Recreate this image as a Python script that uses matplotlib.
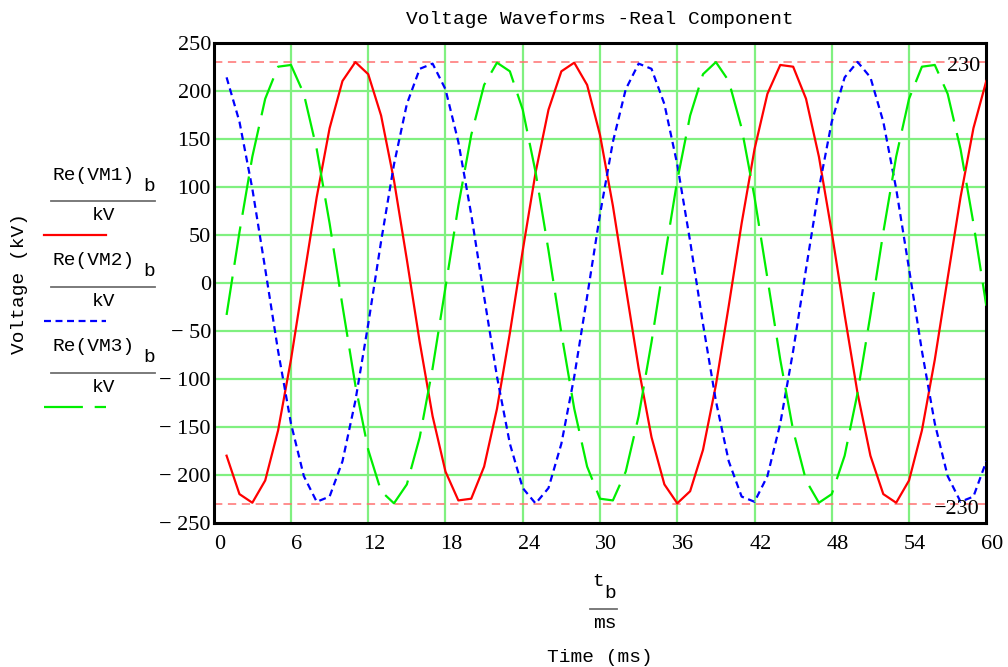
import matplotlib
matplotlib.use("Agg")
import matplotlib.pyplot as plt
import matplotlib.transforms as mtransforms
from matplotlib.lines import Line2D

# ---- data ----
t_ms = list(range(1, 61))

vm1 = [-180.2, -220.2, -229.2, -206.0, -153.9, -80.2, 4.8, 89.1, 160.9, 210.1,
       229.8, 217.2, 174.1, 106.6, 24.0, -61.9, -139.1, -196.7, -226.8, -225.0,
       -191.6, -131.3, -52.5, 33.6, 115.0, 180.2, 220.2, 229.2, 206.0, 153.9,
       80.2, -4.8, -89.1, -160.9, -210.1, -229.8, -217.2, -174.1, -106.6, -24.0,
       61.9, 139.1, 196.7, 226.8, 225.0, 191.6, 131.3, 52.5, -33.6, -115.0,
       -180.2, -220.2, -229.2, -206.0, -153.9, -80.2, 4.8, 89.1, 160.9, 210.1]

vm2 = [213.9, 167.7, 97.9, 14.4, -71.1, -146.6, -201.5, -228.2, -222.8, -186.1,
       -123.2, -43.1, 43.1, 123.2, 186.1, 222.8, 228.2, 201.5, 146.6, 71.1,
       -14.4, -97.9, -167.7, -213.9, -230.0, -213.9, -167.7, -97.9, -14.4, 71.1,
       146.6, 201.5, 228.2, 222.8, 186.1, 123.2, 43.1, -43.1, -123.2, -186.1,
       -222.8, -228.2, -201.5, -146.6, -71.1, 14.4, 97.9, 167.7, 213.9, 230.0,
       213.9, 167.7, 97.9, 14.4, -71.1, -146.6, -201.5, -228.2, -222.8, -186.1]

vm3 = [-33.6, 52.5, 131.3, 191.6, 225.0, 226.8, 196.7, 139.1, 61.9, -24.0,
       -106.6, -174.1, -217.2, -229.8, -210.1, -160.9, -89.1, -4.8, 80.2, 153.9,
       206.0, 229.2, 220.2, 180.2, 115.0, 33.6, -52.5, -131.3, -191.6, -225.0,
       -226.8, -196.7, -139.1, -61.9, 24.0, 106.6, 174.1, 217.2, 229.8, 210.1,
       160.9, 89.1, 4.8, -80.2, -153.9, -206.0, -229.2, -220.2, -180.2, -115.0,
       -33.6, 52.5, 131.3, 191.6, 225.0, 226.8, 196.7, 139.1, 61.9, -24.0]

x_ticks = [0, 6, 12, 18, 24, 30, 36, 42, 48, 54, 60]
y_ticks = [-250, -200, -150, -100, -50, 0, 50, 100, 150, 200, 250]
ref_levels = [230, -230]

plt.rcParams['lines.scale_dashes'] = False
W, H = 1008, 667
fig = plt.figure(figsize=(W / 100, H / 100), dpi=100)

def fx(px):
    return px / W

def fy(py):
    return 1 - py / H

ax = fig.add_axes([fx(213.7), fy(522.7), fx(986.3) - fx(213.7), fy(42.7) - fy(522.7)])
ax.set_xlim(0, 60)
ax.set_ylim(-250, 250)

grid_c = '#80f080'
for xv in x_ticks[1:-1]:
    ax.axvline(xv, color=grid_c, lw=1.6, zorder=0)
for yv in y_ticks[1:-1]:
    ax.axhline(yv, color=grid_c, lw=1.6, zorder=0)

for lv in ref_levels:
    ax.axhline(lv, color='#ff7070', lw=1.1, dashes=(6, 4), zorder=1)

ax.plot(t_ms, vm1, color='#ff0000', lw=1.6, zorder=3)
ax.plot(t_ms, vm2, color='#0000ff', lw=1.6, dashes=(5, 3.3), zorder=3)
ax.plot(t_ms, vm3, color='#00ee00', lw=1.6, dashes=(28, 8.5), zorder=3)

serif = 'Liberation Serif'
mono = 'Liberation Mono'
mono_fs = 14

ax.text(59.5, 225, '230', ha='right', va='center', family=serif, fontsize=16)
ax.text(59.5, -236, '\u2212230', ha='right', va='center', family=serif, fontsize=16)

ax.set_xticks(x_ticks)
ax.set_yticks(y_ticks)
ax.set_xticklabels([str(v) for v in x_ticks], family=serif, fontsize=16)
ax.set_yticklabels([('\u2212 ' + str(-v)) if v < 0 else str(v) for v in y_ticks],
                   family=serif, fontsize=16)
ax.tick_params(length=0)
ax.tick_params(axis='x', pad=9)
ax.tick_params(axis='y', pad=2)
shift = mtransforms.ScaledTranslation(6 / 100, 0, fig.dpi_scale_trans)
for lab in ax.get_xticklabels():
    lab.set_transform(lab.get_transform() + shift)
for s in ax.spines.values():
    s.set_linewidth(2.2)
    s.set_color('black')

# title and labels
fig.text(fx(600), fy(19), 'Voltage Waveforms -Real Component', ha='center', va='center',
         family=mono, fontsize=mono_fs)
fig.text(fx(20), fy(284), 'Voltage (kV)', ha='center', va='center', rotation=90,
         family=mono, fontsize=mono_fs)
fig.text(fx(600), fy(657), 'Time (ms)', ha='center', va='center', family=mono, fontsize=mono_fs)

# x-axis fraction t_b / ms
fig.text(fx(598), fy(581), 't', ha='center', va='center', family=mono, fontsize=mono_fs)
fig.text(fx(610), fy(593), 'b', ha='center', va='center', family=mono, fontsize=mono_fs)
fig.add_artist(Line2D([fx(590), fx(617)], [fy(609), fy(609)], color='#707070', lw=1.3))
fig.text(fx(605), fy(624), 'ms', ha='center', va='center', family=mono, fontsize=mono_fs)

# left legend stack
legend_items = [('Re(VM1)', 175, '#ff0000', None),
                ('Re(VM2)', 260.5, '#0000ff', (5, 3.3)),
                ('Re(VM3)', 346.5, '#00ee00', (28, 8.5))]
for name, y0, col, dsh in legend_items:
    fig.text(fx(53), fy(y0), name, ha='left', va='center', family=mono, fontsize=mono_fs)
    fig.text(fx(149), fy(y0 + 11), 'b', ha='center', va='center', family=mono, fontsize=mono_fs)
    fig.add_artist(Line2D([fx(51), fx(155)], [fy(y0 + 26), fy(y0 + 26)],
                          color='#707070', lw=1.3))
    fig.text(fx(103), fy(y0 + 41), 'kV', ha='center', va='center', family=mono, fontsize=mono_fs)
    kw = dict(color=col, lw=1.6)
    if dsh is not None:
        kw['dashes'] = dsh
    fig.add_artist(Line2D([fx(44), fx(106)], [fy(y0 + 60), fy(y0 + 60)], **kw))

fig.savefig('out.png', dpi=100)
